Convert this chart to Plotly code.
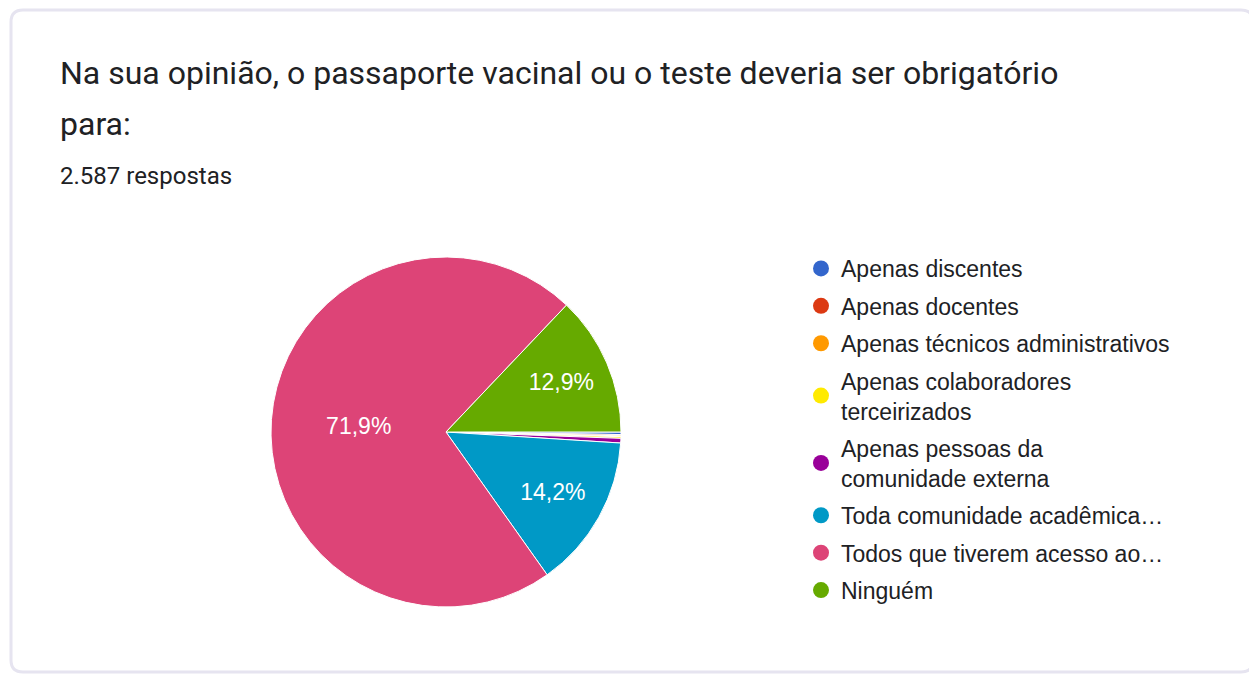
import plotly.graph_objects as go

# page body adds an 8px margin, so the figure is drawn 8px smaller and
# every reference position is shifted by OFF
OFF = 8
W, H = 1257 - OFF, 674 - OFF

categorias = [
    "Apenas discentes",
    "Apenas docentes",
    "Apenas técnicos administrativos",
    "Apenas colaboradores<br>terceirizados",
    "Apenas pessoas da<br>comunidade externa",
    "Toda comunidade acadêmica…",
    "Todos que tiverem acesso ao…",
    "Ninguém",
]
respostas = [6, 3, 2, 4, 11, 367, 1860, 334]
cores = ["#3366cc", "#dc3912", "#ff9900", "#ffea00", "#990099", "#0099c6", "#dd4477", "#66aa00"]

titulo1 = "Na sua opinião, o passaporte vacinal ou o teste deveria ser obrigatório"
titulo2 = "para:"
subtitulo = "2.587 respostas"

total = sum(respostas)
rotulos = []
for v in respostas:
    p = 100 * v / total
    rotulos.append(f"{p:.1f}%".replace(".", ",") if p > 5 else "")


def px(x):
    return (x - OFF) / W


def py(y):
    return 1 - (y - OFF) / H


fig = go.Figure()
fig.add_trace(go.Pie(
    labels=categorias,
    values=respostas,
    text=rotulos,
    textinfo="text",
    textposition="inside",
    insidetextorientation="horizontal",
    textfont=dict(family="Liberation Sans, Arial", size=23, color="white"),
    marker=dict(colors=cores, line=dict(color="white", width=1)),
    sort=False,
    direction="clockwise",
    rotation=90,
    showlegend=False,
    hoverinfo="label+percent",
    domain=dict(x=[px(271), px(621)], y=[py(607), py(257)]),
))

# legend entries (circle markers, like the Forms chart)
for i, (nome, cor) in enumerate(zip(categorias, cores)):
    fig.add_trace(go.Scatter(
        x=[None], y=[None], mode="markers", name=nome,
        legendgroup=f"g{i}",
        marker=dict(color=cor, size=16, symbol="circle"),
    ))

# card outline with rounded corners
x0, x1, y0, y1, r = px(11), px(1253), py(10), py(672), 12
rx, ry = r / W, r / H
card = (
    f"M {x0 + rx},{y0} L {x1 - rx},{y0} Q {x1},{y0} {x1},{y0 - ry} "
    f"L {x1},{y1 + ry} Q {x1},{y1} {x1 - rx},{y1} "
    f"L {x0 + rx},{y1} Q {x0},{y1} {x0},{y1 + ry} "
    f"L {x0},{y0 - ry} Q {x0},{y0} {x0 + rx},{y0} Z"
)

fig.update_layout(
    width=W, height=H,
    margin=dict(l=0, r=0, t=0, b=0),
    paper_bgcolor="white", plot_bgcolor="white",
    xaxis=dict(visible=False, domain=[0.9, 1]),
    yaxis=dict(visible=False, domain=[0.9, 1]),
    shapes=[dict(type="path", xref="paper", yref="paper", path=card,
                 line=dict(color="#e6e4f0", width=3), fillcolor="rgba(0,0,0,0)", layer="below")],
    annotations=[
        dict(text=titulo1, x=px(58), y=py(73), xref="paper", yref="paper",
             xanchor="left", yanchor="middle", showarrow=False,
             font=dict(family="Roboto", size=32, color="#202124")),
        dict(text=titulo2, x=px(58), y=py(124), xref="paper", yref="paper",
             xanchor="left", yanchor="middle", showarrow=False,
             font=dict(family="Roboto", size=32, color="#202124")),
        dict(text=subtitulo, x=px(58), y=py(176), xref="paper", yref="paper",
             xanchor="left", yanchor="middle", showarrow=False,
             font=dict(family="Roboto", size=24, color="#202124")),
    ],
    legend=dict(
        x=px(801), y=py(247), xanchor="left", yanchor="top",
        font=dict(family="Liberation Sans, Arial", size=23, color="#202124"),
        tracegroupgap=4.5, itemclick=False, itemdoubleclick=False,
        bgcolor="rgba(0,0,0,0)",
    ),
)

fig.write_html("out.html")
